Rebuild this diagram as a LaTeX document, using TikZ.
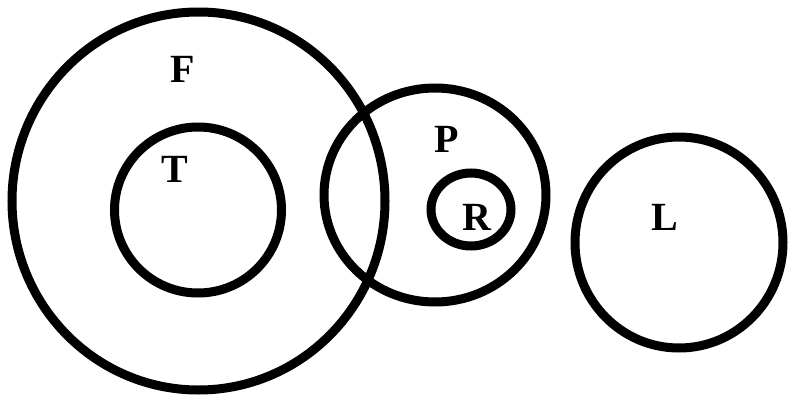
\documentclass[tikz,border=0pt]{standalone}
\usepackage{fontspec}
\setmainfont{Liberation Serif}
\begin{document}
\begin{tikzpicture}[x=1pt,y=-1pt,
  ring/.style={draw=black,line width=9pt},
  lbl/.style={inner sep=0pt,font=\fontsize{40}{40}\selectfont\bfseries}]
\useasboundingbox (0,0) rectangle (788,399);
\fill[white] (0,0) rectangle (788,399);
\draw[ring] (198.5,201) ellipse (186.5 and 189);
\draw[ring] (198,210) ellipse (83.5 and 83);
\draw[ring] (435,195) ellipse (111 and 107);
\draw[ring] (471,209.5) ellipse (40 and 36.5);
\draw[ring] (679,242.5) ellipse (104 and 105.5);
\node[lbl] (F) at (183,69) {F};
\node[lbl] (T) at (175,169) {T};
\node[lbl] (P) at (447,139) {P};
\node[lbl] (R) at (477,217) {R};
\node[lbl] (L) at (665,217) {L};
\end{tikzpicture}
\end{document}
